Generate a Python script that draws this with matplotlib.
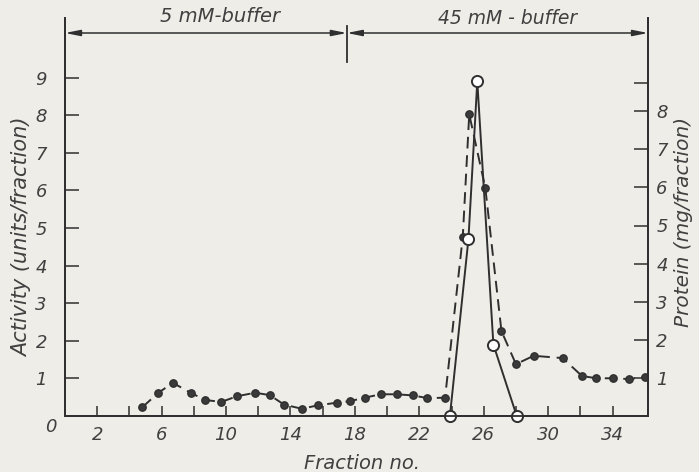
import matplotlib
matplotlib.use('Agg')
import matplotlib.pyplot as plt

# fractions and values
protein_frac = [4.8, 5.8, 6.7, 7.8, 8.7, 9.7, 10.7, 11.8, 12.7, 13.6, 14.7, 15.7,
                16.9, 17.7, 18.6, 19.6, 20.6, 21.6, 22.5, 23.6, 24.7, 25.1, 26.1,
                27.1, 28.0, 29.1, 30.9, 32.1, 33.0, 34.0, 35.0, 36.0]
protein = [0.23, 0.61, 0.87, 0.61, 0.42, 0.37, 0.52, 0.61, 0.55, 0.30, 0.19, 0.28,
           0.35, 0.39, 0.48, 0.57, 0.57, 0.54, 0.47, 0.48, 4.71, 7.92, 5.98,
           2.23, 1.36, 1.58, 1.52, 1.05, 0.99, 0.99, 0.97, 1.02]

activity_frac = [23.9, 25.05, 25.6, 26.6, 28.05]
activity = [0, 4.7, 8.9, 1.9, 0]

x_ticks = list(range(2, 36, 2))
x_labels = [str(t) if (t - 2) % 4 == 0 else '' for t in x_ticks]
act_ticks = [1, 2, 3, 4, 5, 6, 7, 8, 9]
prot_ticks = [1, 2, 3, 4, 5, 6, 7, 8]

buffer_split = 17.5
buffer_labels = ['5 mM-buffer', '45 mM - buffer']

bg = '#eeede8'
ink = '#2f2f2f'
txt = '#404040'

plt.rcParams['font.family'] = 'DejaVu Sans'
plt.rcParams['font.style'] = 'italic'

fig = plt.figure(figsize=(6.99, 4.72), dpi=100, facecolor=bg)
ax = fig.add_axes([65 / 699, 56 / 472, 583 / 699, 398 / 472])
ax2 = ax.twinx()
ax.set_zorder(ax2.get_zorder() + 1)
ax.patch.set_visible(False)
ax2.set_facecolor(bg)

xmax = 36.2
ax.set_xlim(0, xmax)
ax.set_ylim(0, 398 / 37.6)
ax2.set_ylim(0, 398 / 38.1)

# protein: dashed with filled dots
ax2.plot(protein_frac, protein, color=ink, lw=1.4, dashes=(6, 3.5),
         marker='o', ms=5.3, mfc='#3a3a3a', mec=ink)
# activity: solid with open circles
ax.plot(activity_frac, activity, color=ink, lw=1.4, marker='o', ms=8,
        mfc='white', mec=ink, mew=1.4, clip_on=False)

for a in (ax, ax2):
    a.spines['top'].set_visible(False)
    for s in a.spines.values():
        s.set_color(ink)
        s.set_linewidth(1.3)

ax.set_xticks(x_ticks)
ax.set_xticklabels(x_labels)
ax.set_yticks(act_ticks)
ax.tick_params(axis='x', direction='in', length=7, width=1.1, color=ink,
               labelsize=13, labelcolor=txt, pad=7)
ax.tick_params(axis='y', direction='in', length=10, width=1.1, color=ink,
               labelsize=13, labelcolor=txt, pad=13)
ax2.set_yticks(prot_ticks)
ax2.set_yticks([8.75], minor=True)
ax2.tick_params(axis='y', which='both', direction='in', length=10, width=1.1,
                color=ink, labelsize=13, labelcolor=txt, pad=6)

ax.text(-0.9, -0.05, '0', ha='center', va='top', fontsize=13, color=txt,
        clip_on=False)

ax.set_xlabel('Fraction no.', fontsize=14, color=txt)
ax.xaxis.set_label_coords(297 / 583, -0.095)
ax.set_ylabel('Activity (units/fraction)', fontsize=15, color=txt)
ax.yaxis.set_label_coords(-33 / 583, (416 - 237) / 398)
ax2.set_ylabel('Protein (mg/fraction)', fontsize=14.5, color=txt)
ax2.yaxis.set_label_coords(1 + 26 / 583, (416 - 222) / 398)

# buffer arrows along the top
ya = (416 - 33) / 37.6
arrow = dict(arrowstyle='<|-|>,head_length=0.9,head_width=0.18', color=ink,
             lw=1.1, shrinkA=0, shrinkB=0)
ax.annotate('', xy=(0, ya), xytext=(buffer_split, ya), arrowprops=arrow,
            annotation_clip=False)
ax.annotate('', xy=(buffer_split, ya), xytext=(xmax, ya), arrowprops=arrow,
            annotation_clip=False)
ax.plot([buffer_split, buffer_split], [(416 - 62) / 37.6, (416 - 26) / 37.6],
        color=ink, lw=1.3, clip_on=False)
ax.text(9.6, (416 - 17) / 37.6, buffer_labels[0], ha='center', va='center',
        fontsize=14, color=txt, clip_on=False)
ax.text(27.5, (416 - 19) / 37.6, buffer_labels[1], ha='center', va='center',
        fontsize=13.5, color=txt, clip_on=False)

fig.savefig('out.png', dpi=100, facecolor=bg)
